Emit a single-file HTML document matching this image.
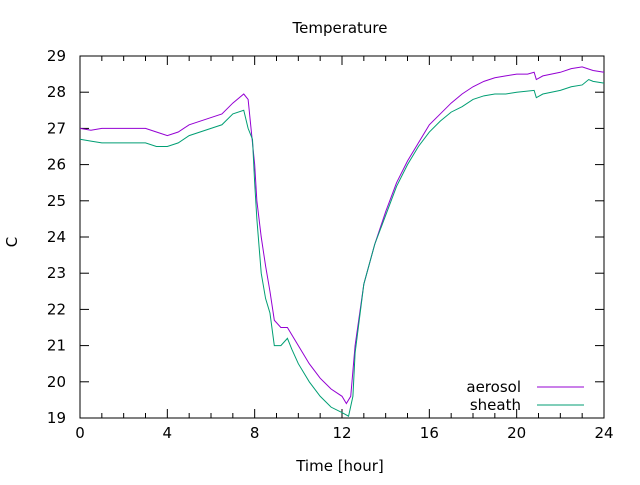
<!DOCTYPE html>
<html><head><meta charset="utf-8"><style>
body{margin:0;background:#fff}
svg text{font-family:"DejaVu Sans","Liberation Sans",sans-serif;font-size:15px;fill:#000}
</style></head><body>
<svg id="chart" width="640" height="480" xmlns="http://www.w3.org/2000/svg">
<rect width="640" height="480" fill="#fff"/>
<text x="340" y="33" text-anchor="middle">Temperature</text>
<text x="340" y="471" text-anchor="middle">Time [hour]</text>
<text x="17" y="242" text-anchor="middle" transform="rotate(-90 17 242)">C</text>
<g id="axes"></g>
<g id="series"></g>
<g>
<text x="521" y="392" text-anchor="end">aerosol</text>
<line x1="537" y1="387" x2="584" y2="387" stroke="#9400d3" stroke-width="1"/>
<text x="521" y="410" text-anchor="end">sheath</text>
<line x1="537" y1="405" x2="584" y2="405" stroke="#009e73" stroke-width="1"/>
</g>
</svg>
<script>
const xTicks=[0,4,8,12,16,20,24];
const yTicks=[19,20,21,22,23,24,25,26,27,28,29];
const aerosolT=[0,0.5,1,2,3,3.5,4,4.5,5,6,6.5,7,7.5,7.7,7.8,8,8.1,8.3,8.5,8.7,8.9,9.2,9.5,9.7,10,10.5,11,11.5,12,12.2,12.4,12.6,13,13.5,14,14.5,15,15.5,16,16.5,17,17.5,18,18.5,19,19.5,20,20.5,20.8,20.9,21.2,22,22.5,23,23.5,24];
const aerosolV=[27.0,26.95,27.0,27.0,27.0,26.9,26.8,26.9,27.1,27.3,27.4,27.7,27.95,27.8,27.2,26.0,25.0,24.0,23.2,22.5,21.7,21.5,21.5,21.3,21.0,20.5,20.1,19.8,19.6,19.4,19.6,21.0,22.7,23.8,24.7,25.5,26.1,26.6,27.1,27.4,27.7,27.95,28.15,28.3,28.4,28.45,28.5,28.5,28.55,28.35,28.45,28.55,28.65,28.7,28.6,28.55];
const sheathT=[0,0.5,1,2,3,3.5,4,4.5,5,6,6.5,7,7.5,7.7,7.9,8,8.1,8.3,8.5,8.7,8.9,9.2,9.5,9.7,10,10.5,11,11.5,12,12.3,12.5,12.6,13,13.5,14,14.5,15,15.5,16,16.5,17,17.5,18,18.5,19,19.5,20,20.8,20.9,21.2,22,22.5,23,23.3,23.5,24];
const sheathV=[26.7,26.65,26.6,26.6,26.6,26.5,26.5,26.6,26.8,27.0,27.1,27.4,27.5,27.0,26.7,25.5,24.5,23.0,22.3,21.9,21.0,21.0,21.2,20.9,20.5,20.0,19.6,19.3,19.15,19.05,19.6,20.8,22.7,23.8,24.6,25.4,26.0,26.5,26.9,27.2,27.45,27.6,27.8,27.9,27.95,27.95,28.0,28.05,27.85,27.95,28.05,28.15,28.2,28.35,28.3,28.25];
const L=80,R=604,T=56,B=418;
const xs=v=>L+(v-0)*(R-L)/24;
const ys=v=>B-(v-19)*(B-T)/10;
const NS="http://www.w3.org/2000/svg";
const axes=document.getElementById('axes');
function mk(tag,attrs,parent){const e=document.createElementNS(NS,tag);for(const k in attrs)e.setAttribute(k,attrs[k]);parent.appendChild(e);return e;}
const frame=mk('rect',{x:L,y:T,width:R-L,height:B-T,fill:'none',stroke:'#000','stroke-width':1},axes);


for(let h=0;h<=24;h++){
  const major=h%4===0,len=major?9:5,x=xs(h);
  const t1=mk('line',{x1:x,y1:B,x2:x,y2:B-len,stroke:'#000'},axes);
  
  
  const t2=mk('line',{x1:x,y1:T,x2:x,y2:T+len,stroke:'#000'},axes);
  
  
}
xTicks.forEach(v=>{
  const t=mk('text',{x:xs(v),y:B+20,'text-anchor':'middle'},axes);t.textContent=v;
  
  
});
yTicks.forEach(v=>{
  const y=ys(v);
  const a=mk('line',{x1:L,y1:y,x2:L+9,y2:y,stroke:'#000'},axes);
  
  
  const b=mk('line',{x1:R,y1:y,x2:R-9,y2:y,stroke:'#000'},axes);
  
  
  const t=mk('text',{x:L-14,y:y+5,'text-anchor':'end'},axes);t.textContent=v;
  
  
});
const ser=document.getElementById('series');
function line(ts,vs,color,name){
  const p=mk('polyline',{points:ts.map((t,i)=>xs(t)+','+ys(vs[i])).join(' '),fill:'none',stroke:color,'stroke-width':1},ser);
  
  
}
line(aerosolT,aerosolV,'#9400d3','aerosol-line');
line(sheathT,sheathV,'#009e73','sheath-line');
</script>
</body></html>
